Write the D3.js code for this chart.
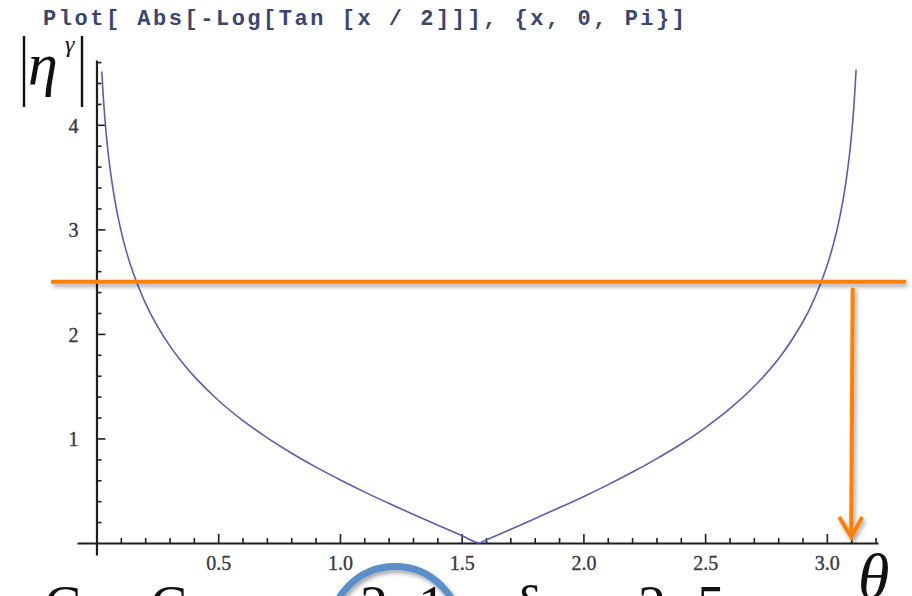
<!DOCTYPE html>
<html>
<head>
<meta charset="utf-8">
<script src="https://cdn.jsdelivr.net/npm/d3@7"></script>
<style>
  html, body { margin: 0; padding: 0; background: #fff; }
  svg { display: block; }
</style>
</head>
<body>
<svg id="chart" width="912" height="596"></svg>
<script>
// |η^γ| against θ, sampled points of the plotted curve
const thetaValues = [0.022, 0.03, 0.04, 0.05, 0.06, 0.08, 0.10, 0.125, 0.15, 0.2, 0.25, 0.3, 0.35, 0.4, 0.5, 0.6, 0.7, 0.8, 0.9, 1.0, 1.1, 1.2, 1.3, 1.4, 1.5, 1.5708, 1.6, 1.7, 1.8, 1.9, 2.0, 2.1, 2.2, 2.3, 2.4, 2.5, 2.6, 2.7, 2.8, 2.9, 2.95, 3.0, 3.04, 3.07, 3.09, 3.10, 3.11, 3.12];
const etaValues = [4.51, 4.20, 3.91, 3.69, 3.51, 3.22, 2.995, 2.77, 2.589, 2.299, 2.074, 1.890, 1.733, 1.596, 1.365, 1.173, 1.008, 0.861, 0.728, 0.605, 0.489, 0.380, 0.274, 0.172, 0.071, 0.0, 0.029, 0.129, 0.232, 0.336, 0.443, 0.556, 0.676, 0.805, 0.944, 1.102, 1.282, 1.494, 1.757, 2.109, 2.342, 2.647, 2.980, 3.330, 3.657, 3.873, 4.148, 4.528];

// axis ticks
const xMajorTicks = [0.5, 1.0, 1.5, 2.0, 2.5, 3.0];
const xMinorTicks = [0.1, 0.2, 0.3, 0.4, 0.6, 0.7, 0.8, 0.9, 1.1, 1.2, 1.3, 1.4, 1.6, 1.7, 1.8, 1.9, 2.1, 2.2, 2.3, 2.4, 2.6, 2.7, 2.8, 2.9, 3.1, 3.2];
const yMajorTicks = [1, 2, 3, 4];
const yMinorTicks = [0.2, 0.4, 0.6, 0.8, 1.2, 1.4, 1.6, 1.8, 2.2, 2.4, 2.6, 2.8, 3.2, 3.4, 3.6, 3.8, 4.2, 4.4, 4.6];

// annotation: threshold level and the θ it maps to
const thresholdLevel = [2.5];
const arrowTheta = [3.1];

const titleText = "Plot[ Abs[-Log[Tan [x / 2]]], {x, 0, Pi}]";
const bottomTokens = ["C", "C", "2", "1", "δ", "2", "5"];

const svg = d3.select("#chart");

const x = d3.scaleLinear().domain([-0.08, 3.21]).range([77, 878]);
const y = d3.scaleLinear().domain([-0.115, 4.62]).range([555, 60]);

const defs = svg.append("defs");
const shadow = defs.append("filter").attr("id", "shadow")
  .attr("x", "-20%").attr("y", "-50%").attr("width", "140%").attr("height", "200%");
shadow.append("feDropShadow").attr("dx", 2).attr("dy", 3).attr("stdDeviation", 2)
  .attr("flood-color", "#000").attr("flood-opacity", 0.35);

const soft = defs.append("filter").attr("id", "soft");
soft.append("feGaussianBlur").attr("stdDeviation", 0.4);

// title
svg.append("text")
  .attr("x", 43).attr("y", 25)
  .attr("textLength", 642).attr("lengthAdjust", "spacing")
  .attr("font-family", "'Liberation Mono', 'DejaVu Sans Mono', monospace")
  .attr("font-weight", "bold").attr("font-size", 22)
  .attr("fill", "#3b4570")
  .text(titleText);

// axes
const axisColor = "#1e1e1e";
const gx = svg.append("g").attr("transform", `translate(0,${y(0)})`);
gx.call(d3.axisBottom(x).tickValues(xMinorTicks).tickSizeInner(-5).tickSizeOuter(0).tickFormat(""));
gx.call(g => g.select(".domain").remove());
const gxMaj = svg.append("g").attr("transform", `translate(0,${y(0)})`);
gxMaj.call(d3.axisBottom(x).tickValues(xMajorTicks).tickSizeInner(-9).tickSizeOuter(0)
  .tickPadding(15).tickFormat(d3.format(".1f")));

const gy = svg.append("g").attr("transform", `translate(${x(0)},0)`);
gy.call(d3.axisLeft(y).tickValues(yMinorTicks).tickSizeInner(-5).tickSizeOuter(0).tickFormat(""));
gy.call(g => g.select(".domain").remove());
const gyMaj = svg.append("g").attr("transform", `translate(${x(0)},0)`);
gyMaj.call(d3.axisLeft(y).tickValues(yMajorTicks).tickSizeInner(-9).tickSizeOuter(0)
  .tickPadding(18).tickFormat(d3.format("d")));

[gx, gxMaj, gy, gyMaj].forEach(g => {
  g.selectAll(".tick line").attr("stroke", axisColor).attr("stroke-width", 1.6);
  g.selectAll(".tick text")
    .attr("font-family", "'Liberation Serif', 'DejaVu Serif', serif")
    .attr("font-size", 20).attr("fill", "#3a3640")
    .attr("stroke", "#3a3640").attr("stroke-width", 0.35);
});
gxMaj.selectAll(".domain").attr("stroke", axisColor).attr("stroke-width", 2.2);
gyMaj.selectAll(".domain").attr("stroke", axisColor).attr("stroke-width", 2.2);
gyMaj.selectAll(".tick text").attr("dy", "0.36em");
gxMaj.selectAll(".tick text").attr("dy", "0.6em");

// curve
const pts = thetaValues.map((t, i) => [t, etaValues[i]]);
const line = d3.line().x(d => x(d[0])).y(d => y(d[1])).curve(d3.curveCatmullRom.alpha(0.5));
svg.append("path")
  .datum(pts)
  .attr("d", line)
  .attr("fill", "none")
  .attr("stroke", "#5c5cb4")
  .attr("stroke-width", 1.6)
  .attr("filter", "url(#soft)");

// y label |η^γ|
const serif = "'Liberation Serif', 'DejaVu Serif', serif";
svg.append("line").attr("x1", 24).attr("x2", 24).attr("y1", 36).attr("y2", 107)
  .attr("stroke", "#111").attr("stroke-width", 2.4);
svg.append("line").attr("x1", 82).attr("x2", 82).attr("y1", 36).attr("y2", 107)
  .attr("stroke", "#111").attr("stroke-width", 2.4);
svg.append("text").attr("x", 28).attr("y", 84)
  .attr("font-family", serif).attr("font-style", "italic").attr("font-size", 60)
  .attr("fill", "#111").text("η");
svg.append("text").attr("x", 65).attr("y", 52)
  .attr("font-family", serif).attr("font-style", "italic").attr("font-size", 24)
  .attr("fill", "#111").text("γ");

// x label θ
svg.append("text").attr("x", 858).attr("y", 598)
  .attr("font-family", serif).attr("font-style", "italic").attr("font-size", 64)
  .attr("fill", "#111").text("θ");

// threshold line and arrow
const orange = "#ff7f00";
const ann = svg.append("g").attr("filter", "url(#shadow)");
ann.selectAll("line.level").data(thresholdLevel).join("line")
  .attr("class", "level")
  .attr("x1", 51).attr("x2", 906)
  .attr("y1", d => y(d)).attr("y2", d => y(d))
  .attr("stroke", orange).attr("stroke-width", 4);
arrowTheta.forEach(t => {
  const ax = x(t);
  const top = y(thresholdLevel[0]) + 6;
  const tip = y(0) - 6;
  ann.append("line")
    .attr("x1", ax + 1.5).attr("y1", top)
    .attr("x2", ax).attr("y2", tip - 2)
    .attr("stroke", orange).attr("stroke-width", 4);
  ann.append("path")
    .attr("d", `M${ax - 12},${tip - 20} L${ax},${tip} L${ax + 11},${tip - 20}`)
    .attr("fill", "none").attr("stroke", orange).attr("stroke-width", 4)
    .attr("stroke-linejoin", "miter");
});

// highlight ring and the line of text running along the bottom edge
svg.append("circle")
  .attr("cx", 395).attr("cy", 632).attr("r", 65.5)
  .attr("fill", "none").attr("stroke", "#5a8fc9").attr("stroke-width", 7)
  .attr("filter", "url(#shadow)");

const tokenX = [44, 150, 360, 418, 515, 638, 697];
svg.append("g").selectAll("text").data(bottomTokens).join("text")
  .attr("x", (d, i) => tokenX[i]).attr("y", 625)
  .attr("font-family", serif).attr("font-size", 56).attr("fill", "#111")
  .text(d => d);
</script>
</body>
</html>
